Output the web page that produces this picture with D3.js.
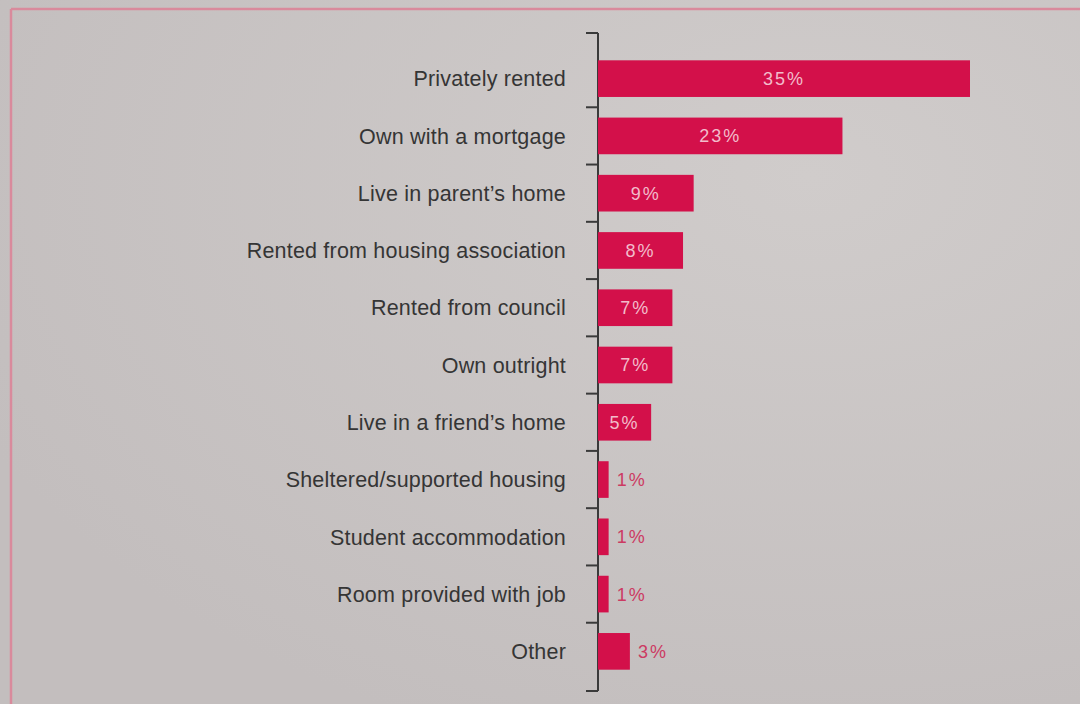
<!DOCTYPE html>
<html>
<head>
<meta charset="utf-8">
<script src="https://cdn.jsdelivr.net/npm/d3@7"></script>
<style>
  html, body { margin: 0; padding: 0; background: #c9c4c4; }
  svg { display: block; }
</style>
</head>
<body>
<svg id="chart" width="1080" height="704"></svg>
<script>
// Housing situation, share of respondents (%)
const categories = [
  "Privately rented",
  "Own with a mortgage",
  "Live in parent\u2019s home",
  "Rented from housing association",
  "Rented from council",
  "Own outright",
  "Live in a friend\u2019s home",
  "Sheltered/supported housing",
  "Student accommodation",
  "Room provided with job",
  "Other"
];
const values = [35, 23, 9, 8, 7, 7, 5, 1, 1, 1, 3];
const valueLabels = ["35%", "23%", "9%", "8%", "7%", "7%", "5%", "1%", "1%", "1%", "3%"];

const W = 1080, H = 704;
const svg = d3.select("#chart");

// page background with a soft light falloff
const defs = svg.append("defs");
const grad = defs.append("radialGradient").attr("id", "paper")
  .attr("cx", "75%").attr("cy", "25%").attr("r", "85%");
grad.append("stop").attr("offset", "0%").attr("stop-color", "#d0cccb");
grad.append("stop").attr("offset", "100%").attr("stop-color", "#c3bebe");
svg.append("rect").attr("width", W).attr("height", H).attr("fill", "url(#paper)");

// pink frame lines along the top and left
svg.append("line").attr("x1", 11).attr("x2", W).attr("y1", 9).attr("y2", 9)
  .attr("stroke", "#d98a9c").attr("stroke-width", 2.5);
svg.append("line").attr("x1", 11).attr("x2", 11).attr("y1", 9).attr("y2", H)
  .attr("stroke", "#d98a9c").attr("stroke-width", 2.5);

const x = d3.scaleLinear().domain([0, 35]).range([598, 970]);
const y = d3.scaleBand().domain(categories).range([50, 680])
  .paddingInner(0.36).paddingOuter(0.18);

const step = y.step();
const axisTop = 33, axisBottom = 691;

// vertical axis line with separator ticks between rows
const g = svg.append("g");
g.append("line")
  .attr("x1", x(0)).attr("x2", x(0))
  .attr("y1", axisTop).attr("y2", axisBottom)
  .attr("stroke", "#3a3a3a").attr("stroke-width", 2);

const tickYs = [axisTop]
  .concat(categories.slice(1).map(c => y(c) - (step - y.bandwidth()) / 2))
  .concat([axisBottom]);
g.selectAll("line.tick").data(tickYs).join("line")
  .attr("class", "tick")
  .attr("x1", x(0) - 12).attr("x2", x(0))
  .attr("y1", d => d).attr("y2", d => d)
  .attr("stroke", "#3a3a3a").attr("stroke-width", 2);

// category labels
g.selectAll("text.cat").data(categories).join("text")
  .attr("class", "cat")
  .attr("x", 566)
  .attr("y", d => y(d) + y.bandwidth() / 2)
  .attr("dy", "0.36em")
  .attr("text-anchor", "end")
  .attr("font-family", "Liberation Sans, Arial, sans-serif")
  .attr("font-size", 21.5)
  .attr("letter-spacing", 0.2)
  .attr("fill", "#353535")
  .text(d => d);

// bars
const rows = categories.map((c, i) => ({ c, v: values[i], label: valueLabels[i] }));
g.selectAll("rect.bar").data(rows).join("rect")
  .attr("class", "bar")
  .attr("x", x(0))
  .attr("y", d => y(d.c))
  .attr("width", d => x(d.v) - x(0))
  .attr("height", y.bandwidth())
  .attr("fill", "#d3104a");

// value labels: inside the bar when it is wide enough, otherwise just past its end
g.selectAll("text.val").data(rows).join("text")
  .attr("class", "val")
  .attr("x", d => d.v >= 5 ? (x(0) + x(d.v)) / 2 : x(d.v) + 8)
  .attr("y", d => y(d.c) + y.bandwidth() / 2)
  .attr("dy", "0.36em")
  .attr("text-anchor", d => d.v >= 5 ? "middle" : "start")
  .attr("font-family", "Liberation Sans, Arial, sans-serif")
  .attr("font-size", 18)
  .attr("letter-spacing", 2)
  .attr("fill", d => d.v >= 5 ? "#f2bccb" : "#cc3a62")
  .text(d => d.label);
</script>
</body>
</html>
